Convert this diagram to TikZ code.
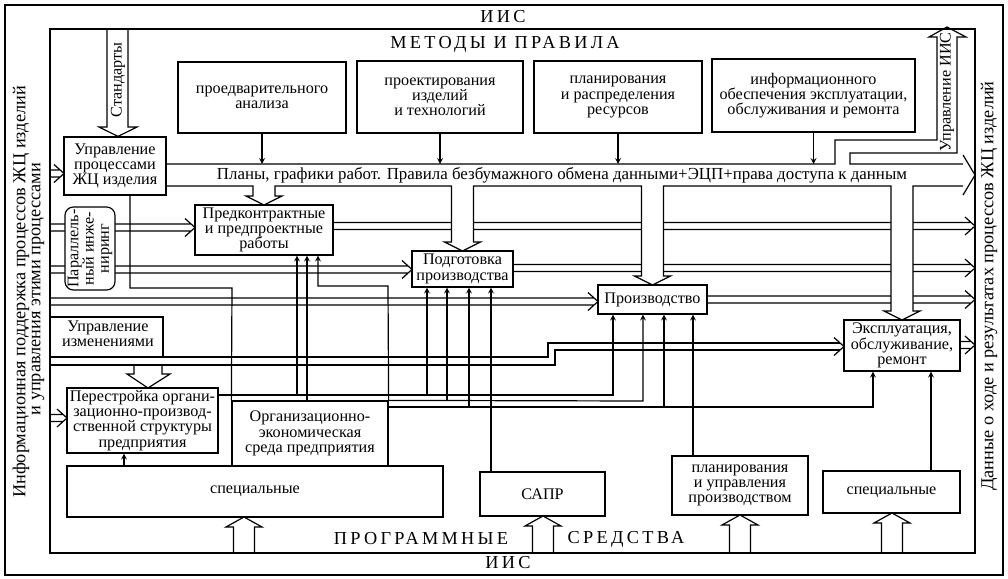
\documentclass[tikz,border=0pt]{standalone}
\usepackage{fontspec}
\setmainfont{Liberation Serif}

\newcommand{\spaced}{\addfontfeatures{LetterSpace=18}}
% double arrow from x=#1 to tip x=#2 at height #3
\newcommand{\darr}[3]{\draw (#1,#3-3.5) -- (#2-4,#3-3.5) (#1,#3+3.5) -- (#2-4,#3+3.5)
    (#2-10,#3-9) -- (#2,#3) -- (#2-10,#3+9);}
% wide arrow up from the frame, axis #1, tip at #2
\newcommand{\uarr}[2]{\draw (#1-10.5,553) -- (#1-10.5,#2+10) -- (#1-18,#2+10) -- (#1,#2)
    -- (#1+18,#2+10) -- (#1+10.5,#2+10) -- (#1+10.5,553);}

\begin{document}
\begin{tikzpicture}[>=stealth, x=0.025cm, y=-0.025cm, line width=0.85pt,
    blk/.style={draw, fill=white, inner sep=0pt, align=center, font=\fontsize{11.5}{10.8}\selectfont},
    lbl/.style={inner sep=0pt, align=center, font=\fontsize{11.5}{10.8}\selectfont},
    side/.style={inner sep=0pt, rotate=90, font=\fontsize{13}{13}\selectfont},
    caps/.style={inner sep=0pt, font=\fontsize{13}{13}\selectfont\spaced}]
\useasboundingbox (0,0) rectangle (1008,579);
\draw (5,5) rectangle (1003,575);
\draw (50,29) rectangle (975,553);
\node[caps] (iisT) at (503,17) {ИИС};
\node[caps] (metody) at (505,44) {МЕТОДЫ И ПРАВИЛА};
\node[caps] (iisB) at (508,563) {ИИС};
\node[caps] (prog) at (421,539) {ПРОГРАММНЫЕ};
\node[caps] (sredstva) at (626,539) {СРЕДСТВА};
\node[side] (infoA) at (21,292) {Информационная поддержка процессов ЖЦ изделий};
\node[side] (infoB) at (38,289) {и управления этими процессами};
\node[side] (dannye) at (989,286) {Данные о ходе и результатах процессов ЖЦ изделий};

% double lines in and out
\darr{50}{64}{173.5}
\darr{50}{195}{227.5}
\darr{50}{412}{269.5}
\darr{50}{598}{301.5}
\darr{50}{67}{418}
\darr{333}{975}{226}
\darr{513}{975}{268}
\darr{707}{975}{299.5}
\darr{960}{975}{345}
\draw (50,317) -- (163,317) -- (163,357);
\draw (50,357) -- (548,357) -- (548,343) -- (840,343);
\draw (50,365) -- (555,365) -- (555,350) -- (840,350);
\draw (834,337.5) -- (844,346.5) -- (834,355.5);
\draw (134,365) -- (134,374) -- (127,374) -- (148,388) -- (170,374) -- (162,374) -- (162,365);
\node[lbl] (izm) at (108,334) {Управление\\изменениями};

% band
\coordinate (bandT) at (166,164);
\coordinate (bandB) at (166,186);
\draw (bandT) -- (835,164) -- (835,140) -- (937,140) -- (937,37) -- (929,37) -- (947,27)
    -- (966,37) -- (957,37) -- (957,153) -- (850,153) -- (850,164) -- (963,164);
\filldraw[fill=white] (bandB) -- (253,186) -- (253,196) -- (246,196) -- (264,205) -- (282,196)
    -- (275,196) -- (275,186) -- (451.5,186) -- (451.5,242) -- (444.5,242) -- (462.5,251)
    -- (480.5,242) -- (473.5,242) -- (473.5,186) -- (641.5,186) -- (641.5,276) -- (634.5,276)
    -- (652.5,285) -- (670.5,276) -- (663.5,276) -- (663.5,186) -- (891,186) -- (891,311)
    -- (884,311) -- (902,320) -- (920,311) -- (913,311) -- (913,186) -- (963,186);
\draw (963,155) -- (975,175) -- (963,195);
\node[lbl, font=\fontsize{12}{12}\selectfont] (plany) at (562,175) {Планы, графики работ. Правила безбумажного обмена данными+ЭЦП+права доступа к данным};
\node[lbl, rotate=90] (uiis) at (947,92) {Управление ИИС};

% boxes
\node[blk, minimum width=4.2cm, minimum height=1.775cm] (analiz) at (262,97.5) {проедварительного\\анализа};
\node[blk, minimum width=4.15cm, minimum height=1.8cm] (proekt) at (440,97) {проектирования\\изделий\\и технологий};
\node[blk, minimum width=4.2cm, minimum height=1.8cm] (resurs) at (618,97) {планирования\\и распределения\\ресурсов};
\node[blk, minimum width=5.075cm, minimum height=1.825cm] (remont) at (813.5,95.5) {информационного\\обеспечения эксплуатации,\\обслуживания и ремонта};
\node[blk, minimum width=2.55cm, minimum height=1.45cm] (upr) at (115,166) {Управление\\процессами\\ЖЦ изделия};
\node[blk, rounded corners=6pt, minimum width=1.25cm, minimum height=2.075cm] (par) at (90,248.5) {};
\node[lbl, rotate=90] (parT) at (par.center) {Параллель-\\ный инже-\\ниринг};
\node[blk, minimum width=3.45cm, minimum height=1.25cm] (pred) at (264,230) {Предконтрактные\\и предпроектные\\работы};
\node[blk, minimum width=2.525cm, minimum height=0.9cm] (podg) at (462.5,269) {Подготовка\\производства};
\node[blk, minimum width=2.725cm, minimum height=0.725cm] (proizv) at (652.5,299.5) {Производство};
\node[blk, minimum width=2.9cm, minimum height=1.275cm] (ekspl) at (902,345.5) {Эксплуатация,\\обслуживание,\\ремонт};
\node[blk, minimum width=3.775cm, minimum height=1.625cm] (perestr) at (142.5,420.5) {Перестройка органи-\\зационно-производ-\\ственной структуры\\предприятия};
\node[blk, minimum width=3.9cm, minimum height=1.625cm] (org) at (310,433.5) {Организационно-\\экономическая\\среда предприятия};
\node[blk, minimum width=9.4cm, minimum height=1.275cm] (spec1) at (255,491.5) {специальные};
\node[blk, minimum width=3.125cm, minimum height=1.1cm] (sapr) at (542.5,494) {САПР};
\node[blk, minimum width=3.4cm, minimum height=1.475cm] (planupr) at (740,485.5) {планирования\\и управления\\производством};
\node[blk, minimum width=3.425cm, minimum height=1.05cm] (spec2) at (891.5,492) {специальные};

% Standards
\draw (107,29) -- (107,127) -- (99,127) -- (118,0 |- upr.north) -- (137,127) -- (128,127) -- (128,29);
\node[lbl, rotate=90] (std) at (118,80) {Стандарты};

% thin arrows
\draw[->] (analiz.south) -- (analiz.south |- bandT);
\draw[->] (proekt.south) -- (proekt.south |- bandT);
\draw[->] (resurs.south) -- (resurs.south |- bandT);
\draw[->] (remont.south) -- (remont.south |- bandT);
\draw (130,0 |- upr.south) -- (130,288) -- (232,288) -- (org.north west);
\draw[->] (perestr.east |- 0,395) -- (613,395) -- (613,0 |- proizv.south);
\draw[->] (297,395) -- (297,0 |- pred.south);
\draw[->] (427,395) -- (427,0 |- podg.south);
\draw[->] (org.north east) -- (643,401) -- (643,0 |- proizv.south);
\draw[->] (307,401) -- (307,0 |- pred.south);
\draw[->] (447,401) -- (447,0 |- podg.south);
\draw[->] (388,407) -- (873,407) -- (873,0 |- ekspl.south);
\draw[->] (469,407) -- (469,0 |- podg.south);
\draw[->] (664,407) -- (664,0 |- proizv.south);
\draw[->] (org.north east) -- (388,286) -- (318,286) -- (318,0 |- pred.south);
\draw[->] (491,0 |- sapr.north) -- (491,0 |- podg.south);
\draw[->] (693,0 |- planupr.north) -- (693,0 |- proizv.south);
\draw[->] (931,0 |- spec2.north) -- (931,0 |- ekspl.south);
\draw[->] (124,0 |- spec1.north) -- (124,0 |- perestr.south);

% program tools
\uarr{244}{517}
\uarr{543}{516}
\uarr{740}{515}
\uarr{892}{513}
\end{tikzpicture}
\end{document}
